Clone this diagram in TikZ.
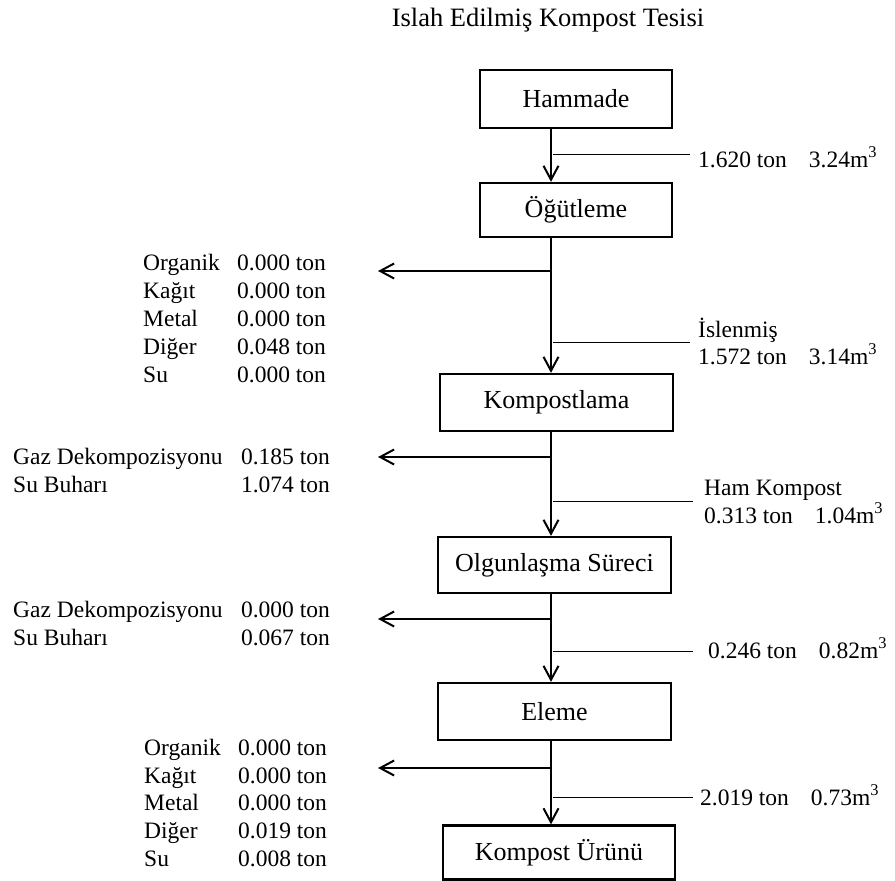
\documentclass[tikz,border=0pt]{standalone}
\usepackage{fontspec}
\setmainfont{Liberation Serif}
\usetikzlibrary{arrows.meta}
\tikzset{
  procbox/.style={draw, line width=2.2pt, inner sep=0pt, font=\fontsize{26}{30}\selectfont},
  flow/.style={line width=2pt, -{Straight Barb[length=14pt,width=15pt]}},
  tick/.style={line width=1pt},
  lbl/.style={inner sep=0pt, font=\fontsize{23.5}{28}\selectfont},
  ttl/.style={inner sep=0pt, font=\fontsize{26.5}{30}\selectfont}
}
\begin{document}
\begin{tikzpicture}[x=1pt,y=-1pt]
\useasboundingbox (0,0) rectangle (895,881);
\node[ttl] (title) at (548,20) {Islah Edilmiş Kompost Tesisi};

\node[procbox, minimum width=192pt, minimum height=58pt] (hm) at (576,99) {Hammade};
\node[procbox, minimum width=192pt, minimum height=54pt] (og) at (576,210) {Öğütleme};
\node[procbox, minimum width=233pt, minimum height=57pt] (km) at (556.5,402.5) {Kompostlama};
\node[procbox, minimum width=233pt, minimum height=56pt] (ol) at (554.5,565) {Olgunlaşma Süreci};
\node[procbox, minimum width=233pt, minimum height=57pt] (el) at (554.5,711.5) {Eleme};
\node[procbox, minimum width=232pt, minimum height=54pt] (ku) at (559,852.5) {Kompost Ürünü};

\coordinate (vx) at (551,0);
\draw[flow] (hm.south -| vx) -- (og.north -| vx);
\draw[flow] (og.south -| vx) -- (km.north -| vx);
\draw[flow] (km.south -| vx) -- (ol.north -| vx);
\draw[flow] (ol.south -| vx) -- (el.north -| vx);
\draw[flow] (el.south -| vx) -- (ku.north -| vx);

% left outflows
\coordinate (t1) at (378,271);
\coordinate (t2) at (378,457);
\coordinate (t3) at (378,619);
\coordinate (t4) at (378,768);
\foreach \t in {t1,t2,t3,t4} \draw[flow] (\t -| vx) -- (\t);

% right tick lines
\coordinate (e1) at (690,154);
\coordinate (e2) at (690,342);
\coordinate (e3) at (693,501);
\coordinate (e4) at (693,651);
\coordinate (e5) at (693,797);
\foreach \e in {e1,e2,e3,e4,e5} \draw[tick] ([xshift=2pt]\e -| vx) -- (\e);

% right labels
\node[lbl, anchor=base west] (r1) at (698,167) {1.620 ton\hspace{22pt}3.24m\textsuperscript{3}};
\node[lbl, anchor=base west] (r2a) at (698,337) {İslenmiş};
\node[lbl, anchor=base west] (r2b) at (698,364) {1.572 ton\hspace{22pt}3.14m\textsuperscript{3}};
\node[lbl, anchor=base west] (r3a) at (704,495) {Ham Kompost};
\node[lbl, anchor=base west] (r3b) at (704,523) {0.313 ton\hspace{22pt}1.04m\textsuperscript{3}};
\node[lbl, anchor=base west] (r4) at (708,658) {0.246 ton\hspace{22pt}0.82m\textsuperscript{3}};
\node[lbl, anchor=base west] (r5) at (700,805) {2.019 ton\hspace{22pt}0.73m\textsuperscript{3}};

% left block 1
\foreach \nm/\vl/\yy [count=\i] in {Organik/0.000/270, Kağıt/0.000/298, Metal/0.000/326, Diğer/0.048/354, Su/0.000/382}{
  \node[lbl, anchor=base west] (a\i) at (143,\yy) {\nm};
  \node[lbl, anchor=base west] (av\i) at (237,\yy) {\vl\ ton};
}
% left block 2
\node[lbl, anchor=base west] (b1) at (13,464) {Gaz Dekompozisyonu};
\node[lbl, anchor=base east] (bv1) at (330,464) {0.185 ton};
\node[lbl, anchor=base west] (b2) at (13,492) {Su Buharı};
\node[lbl, anchor=base east] (bv2) at (330,492) {1.074 ton};
% left block 3
\node[lbl, anchor=base west] (c1) at (13,617) {Gaz Dekompozisyonu};
\node[lbl, anchor=base east] (cv1) at (330,617) {0.000 ton};
\node[lbl, anchor=base west] (c2) at (13,645) {Su Buharı};
\node[lbl, anchor=base east] (cv2) at (330,645) {0.067 ton};
% left block 4
\foreach \nm/\vl/\yy [count=\i] in {Organik/0.000/755, Kağıt/0.000/783, Metal/0.000/810, Diğer/0.019/838, Su/0.008/866}{
  \node[lbl, anchor=base west] (d\i) at (144,\yy) {\nm};
  \node[lbl, anchor=base west] (dv\i) at (238,\yy) {\vl\ ton};
}
\end{tikzpicture}
\end{document}
